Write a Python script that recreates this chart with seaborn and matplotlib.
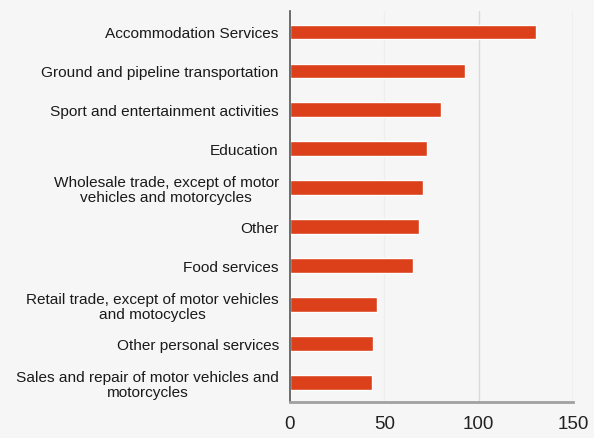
import matplotlib
matplotlib.use("Agg")
import matplotlib.pyplot as plt
import seaborn as sns
import pandas as pd

sectors = [
    "Accommodation Services",
    "Ground and pipeline transportation",
    "Sport and entertainment activities",
    "Education",
    "Wholesale trade, except of motor\nvehicles and motorcycles",
    "Other",
    "Food services",
    "Retail trade, except of motor vehicles\nand motocycles",
    "Other personal services",
    "Sales and repair of motor vehicles and\nmotorcycles",
]
values = [130.5, 92.5, 80, 72.5, 70.5, 68.5, 65, 46, 44, 43.5]
x_ticks = [0, 50, 100, 150]

df = pd.DataFrame({"sector": sectors, "value": values})

sns.set_theme(style="white")
plt.rcParams["font.family"] = ["Liberation Sans", "DejaVu Sans"]

bg = "#f6f6f7"
fig = plt.figure(figsize=(5.94, 4.39), dpi=100, facecolor=bg)
ax = fig.add_axes([0.488, 0.082, 0.477, 0.891])
ax.set_facecolor(bg)

sns.barplot(data=df, x="value", y="sector", orient="h", color="#db401b",
            saturation=1, width=0.38, ax=ax)

ax.set_xlim(0, 150)
ax.set_ylim(len(sectors) - 0.51, -0.54)
ax.set_xticks(x_ticks)
ax.set_xticklabels([str(t) for t in x_ticks], fontsize=13.5, color="#222222")
ax.set_xlabel("")
ax.set_ylabel("")
ax.tick_params(axis="both", length=0)
ax.tick_params(axis="x", pad=9)
ax.tick_params(axis="y", pad=8)
for lbl in ax.get_yticklabels():
    lbl.set_fontsize(11.1)
    lbl.set_color("#1a1a1a")
    lbl.set_multialignment("center")
    lbl.set_linespacing(1.05)

grid_colors = {50: "#eeeeee", 100: "#dadada", 150: "#d4d4d4"}
for t, c in grid_colors.items():
    ax.axvline(t, color=c, lw=1, zorder=0)

for side in ("top", "right"):
    ax.spines[side].set_visible(False)
ax.spines["left"].set_color("#555555")
ax.spines["left"].set_linewidth(1.2)
ax.spines["bottom"].set_color("#a0a0a0")
ax.spines["bottom"].set_linewidth(2)

fig.savefig("out.png", dpi=100, facecolor=bg)
